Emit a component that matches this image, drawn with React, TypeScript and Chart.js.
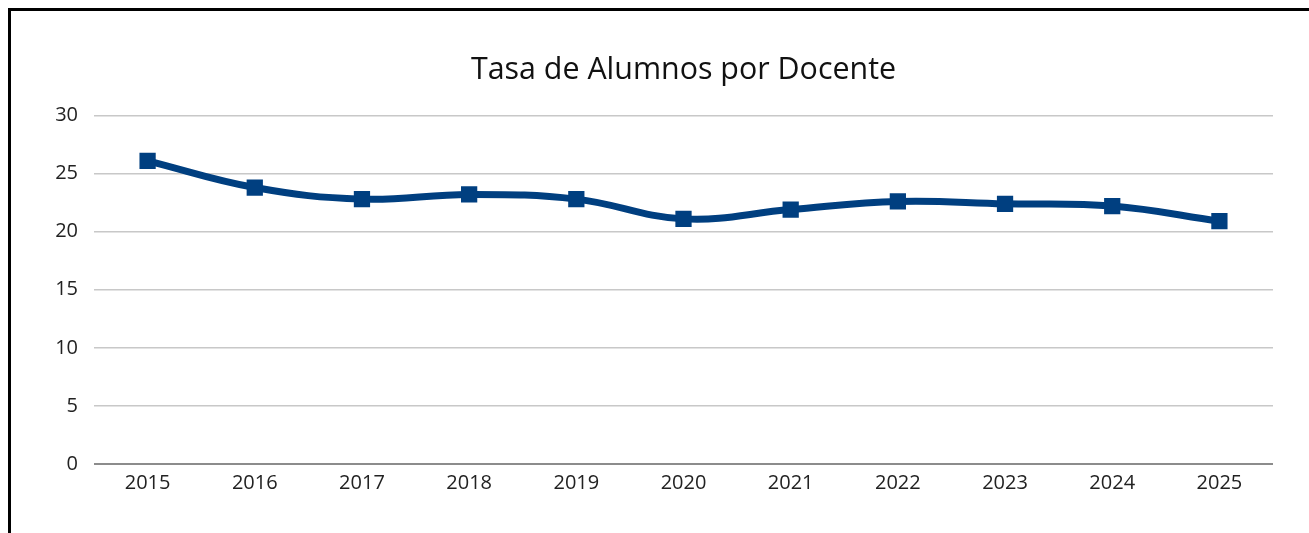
import React, { useEffect, useRef } from "react";
import { Chart, registerables } from "chart.js";

Chart.register(...registerables);

const years = ["2015", "2016", "2017", "2018", "2019", "2020", "2021", "2022", "2023", "2024", "2025"];
const ratio = [26.1, 23.8, 22.8, 23.2, 22.8, 21.1, 21.9, 22.6, 22.4, 22.2, 20.9];
const yTicks = [0, 5, 10, 15, 20, 25, 30];
const titleText = "Tasa de Alumnos por Docente";
const lineColor = "#003f80";

export default function App() {
  const ref = useRef<HTMLCanvasElement | null>(null);

  useEffect(() => {
    document.documentElement.style.overflow = "hidden";
    const font = "'Open Sans', 'Noto Sans', sans-serif";
    const chart = new Chart(ref.current as HTMLCanvasElement, {
      type: "line",
      data: {
        labels: years,
        datasets: [
          {
            data: ratio,
            borderColor: lineColor,
            backgroundColor: lineColor,
            borderWidth: 7,
            tension: 0.4,
            pointStyle: "rect",
            pointRadius: 11.5,
            pointBorderWidth: 0,
            pointBackgroundColor: lineColor,
          },
        ],
      },
      options: {
        animation: false,
        responsive: false,
        maintainAspectRatio: false,
        layout: { padding: { left: 0, right: 78, top: 0, bottom: 0 } },
        plugins: {
          legend: { display: false },
          tooltip: { enabled: false },
          title: {
            display: true,
            fullSize: false,
            text: titleText,
            color: "#111",
            font: { family: font, size: 30.4, weight: "normal" },
            padding: { top: 41, bottom: 27 },
          },
        },
        scales: {
          x: {
            offset: true,
            grid: { display: false, drawTicks: false },
            border: { display: false },
            ticks: { color: "#222", font: { family: font, size: 20 }, padding: 7, maxRotation: 0 },
            afterFit: (s: any) => {
              s.height = 67;
            },
          },
          y: {
            min: 0,
            max: 30,
            afterBuildTicks: (s: any) => {
              s.ticks = yTicks.map((v) => ({ value: v }));
            },
            grid: {
              drawTicks: false,
              color: (c: any) => (c.tick && c.tick.value === 0 ? "#8c8c8c" : "#c8c8c8"),
              lineWidth: (c: any) => (c.tick && c.tick.value === 0 ? 2 : 1.5),
            },
            border: { display: false },
            ticks: { color: "#222", font: { family: font, size: 20 }, padding: 16 },
            afterFit: (s: any) => {
              s.width = 83;
            },
          },
        },
      },
    });
    return () => chart.destroy();
  }, []);

  return (
    <div
      style={{
        position: "fixed",
        left: 8,
        top: 8,
        width: 1360,
        height: 540,
        border: "3px solid #000",
        background: "#fff",
        boxSizing: "content-box",
      }}
    >
      <canvas ref={ref} width={1340} height={520} style={{ display: "block" }} />
    </div>
  );
}
